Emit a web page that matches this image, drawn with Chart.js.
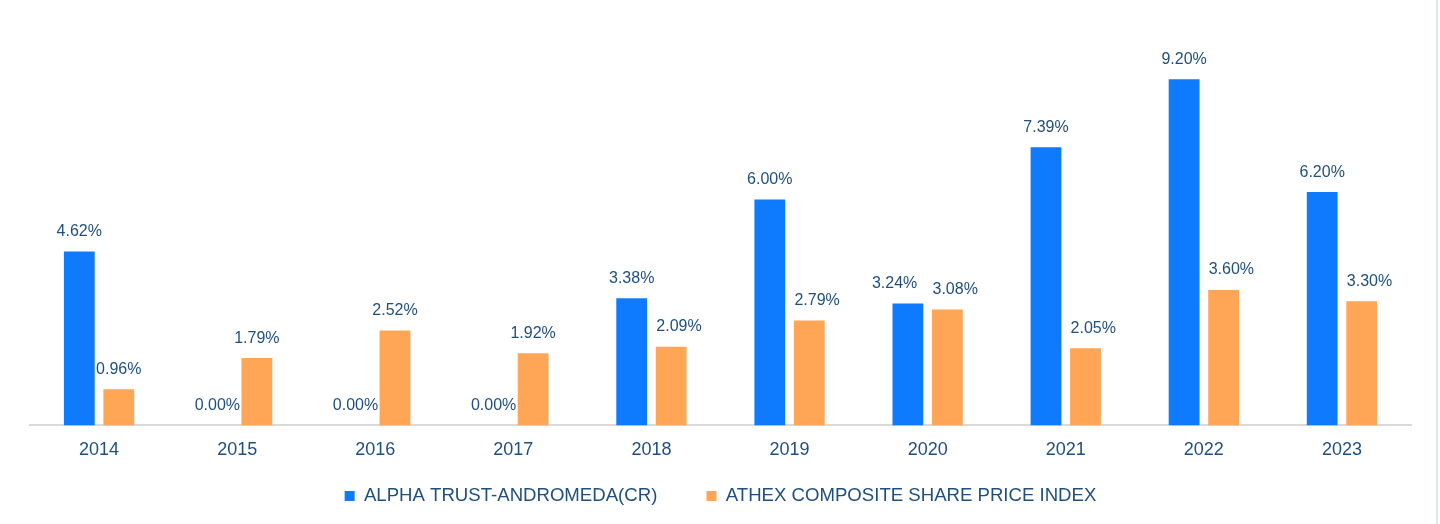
<!DOCTYPE html>
<html>
<head>
<meta charset="utf-8">
<script src="https://cdn.jsdelivr.net/npm/chart.js@4.4.1/dist/chart.umd.min.js"></script>
<style>
  html, body { margin: 0; padding: 0; background: #ffffff; }
  #wrap { position: relative; width: 1436px; height: 524px; border-right: 2px solid #e1e5ec; }
  canvas { display: block; }
</style>
</head>
<body>
<div id="wrap"><canvas id="c" width="1436" height="524"></canvas></div>
<script>
const years = ["2014","2015","2016","2017","2018","2019","2020","2021","2022","2023"];
const fundName = "ALPHA TRUST-ANDROMEDA(CR)";
const indexName = "ATHEX COMPOSITE SHARE PRICE INDEX";
const fundValues = [4.62, 0.00, 0.00, 0.00, 3.38, 6.00, 3.24, 7.39, 9.20, 6.20];
const indexValues = [0.96, 1.79, 2.52, 1.92, 2.09, 2.79, 3.08, 2.05, 3.60, 3.30];
// label anchoring relative to each bar (style only): c = centred, l = bar's left edge, r = bar's right edge
const fundLabelAnchor = ["c","c","c","c","c","c","r","c","c","c"];
const indexLabelAnchor = ["c","c","c","c","l","l","l","l","l","l"];

const textColor = "#1f4f7e";
const fontFamily = "'Liberation Sans', Arial, sans-serif";
const anchors = [fundLabelAnchor, indexLabelAnchor];

const valueLabels = {
  id: "valueLabels",
  afterDatasetsDraw(chart) {
    const ctx = chart.ctx;
    ctx.save();
    ctx.font = "16px " + fontFamily;
    ctx.fillStyle = textColor;
    ctx.textBaseline = "alphabetic";
    chart.data.datasets.forEach((ds, i) => {
      chart.getDatasetMeta(i).data.forEach((bar, j) => {
        const a = anchors[i][j];
        let x = bar.x;
        if (a === "l") { ctx.textAlign = "left"; x = bar.x - bar.width / 2 + 0.5; }
        else if (a === "r") { ctx.textAlign = "right"; x = bar.x + bar.width / 2 - 6; }
        else { ctx.textAlign = "center"; }
        ctx.fillText(ds.data[j].toFixed(2) + "%", x, bar.y - 15.5);
      });
    });
    ctx.restore();
  }
};

new Chart(document.getElementById("c"), {
  type: "bar",
  data: {
    labels: years,
    datasets: [
      { label: fundName, data: fundValues, backgroundColor: "#0e7afe", borderWidth: 0,
        categoryPercentage: 0.572, barPercentage: 0.78 },
      { label: indexName, data: indexValues, backgroundColor: "#ffa556", borderWidth: 0,
        categoryPercentage: 0.572, barPercentage: 0.78 }
    ]
  },
  options: {
    responsive: false,
    animation: false,
    layout: { padding: { top: 11.4, left: 30, right: 25, bottom: 8.6 } },
    scales: {
      x: {
        grid: { display: false, drawTicks: false },
        border: { display: true, color: "#d9d9d9", width: 2 },
        ticks: { color: textColor, font: { size: 18, family: fontFamily }, padding: 13.4 }
      },
      y: { display: false, min: 0, max: 11 }
    },
    plugins: {
      legend: {
        position: "bottom",
        labels: {
          color: textColor,
          font: { size: 18.6, family: fontFamily },
          boxWidth: 10, boxHeight: 10, padding: 13,
          generateLabels(chart) {
            const items = Chart.defaults.plugins.legend.labels.generateLabels(chart);
            items[0].text = items[0].text + "       ";
            return items;
          }
        }
      },
      tooltip: { enabled: false }
    }
  },
  plugins: [valueLabels]
});
</script>
</body>
</html>
